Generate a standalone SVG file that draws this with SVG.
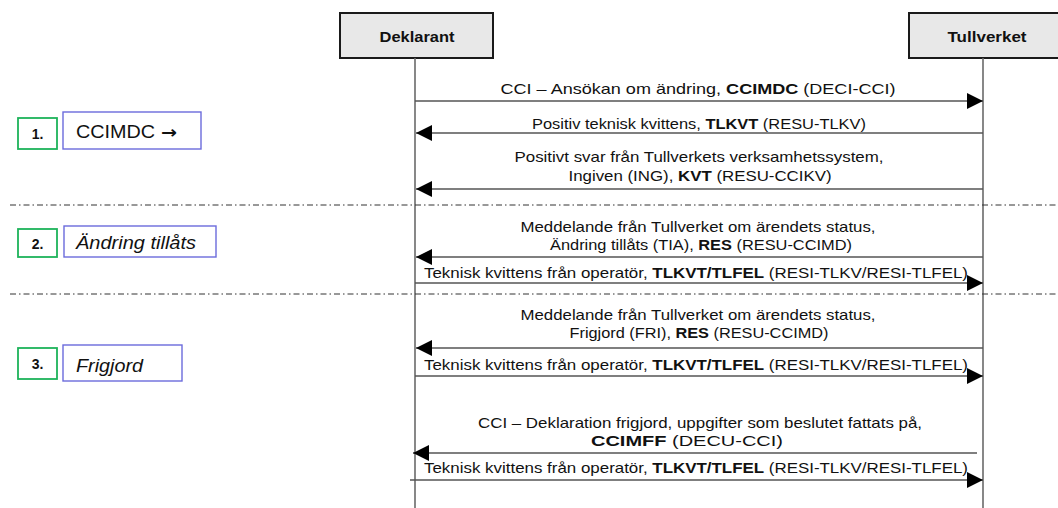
<svg xmlns="http://www.w3.org/2000/svg" width="1058" height="508" viewBox="0 0 1058 508">
<style>
text{font-family:"Liberation Sans",Arial,sans-serif;fill:#111}
.hdr{fill:#e8e8e8;stroke:#1a1a1a;stroke-width:2}
.hdrt{font-size:15px;font-weight:bold;text-anchor:middle}
.life{stroke:#6a6a6a;stroke-width:1.6}
.msg{stroke:#555;stroke-width:1.3;fill:none}
.lbl{font-size:15px;text-anchor:middle}
.b{font-weight:bold}
.sep{stroke:#333;stroke-width:1;stroke-dasharray:6 3 1.5 3}
.num{fill:#fff;stroke:#1db35a;stroke-width:1.8}
.numt{font-size:14px;font-weight:bold;text-anchor:middle}
.step{fill:#fff;stroke:#6b6bdc;stroke-width:1.4}
.stept{font-size:18px}
</style>
<defs>
<marker id="ah" markerWidth="16" markerHeight="16" refX="16" refY="8" orient="auto" markerUnits="userSpaceOnUse">
<path d="M0,0 L16,8 L0,16 Z" fill="#000"/>
</marker>
</defs>

<g id="deklarant">
<rect class="hdr" x="340" y="13" width="153" height="45"/>
<text class="hdrt" x="417" y="42" textLength="75" lengthAdjust="spacingAndGlyphs">Deklarant</text>
<line class="life" x1="415" y1="58" x2="415" y2="508"/>
</g>
<g id="tullverket">
<rect class="hdr" x="909" y="13" width="160" height="45"/>
<text class="hdrt" x="987" y="42" textLength="79" lengthAdjust="spacingAndGlyphs">Tullverket</text>
<line class="life" x1="983" y1="58" x2="983" y2="508"/>
</g>

<g id="separators">
<line class="sep" x1="10" y1="205" x2="1058" y2="205"/>
<line class="sep" x1="10" y1="294" x2="1058" y2="294"/>
</g>

<g id="step1">
<rect class="num" x="18" y="118" width="39" height="31"/>
<text class="numt" x="37.5" y="139">1.</text>
<rect class="step" x="63" y="112" width="138" height="37"/>
<text class="stept" x="76" y="138" textLength="79" lengthAdjust="spacingAndGlyphs">CCIMDC</text>
<text x="161" y="138" style="font-family:'DejaVu Sans',sans-serif;font-size:17px;font-weight:bold" textLength="16" lengthAdjust="spacingAndGlyphs">→</text>
</g>
<g id="step2">
<rect class="num" x="18" y="229" width="39" height="28"/>
<text class="numt" x="37.5" y="249">2.</text>
<rect class="step" x="64" y="226" width="152" height="31"/>
<text class="stept" x="76" y="249" font-style="italic" textLength="120" lengthAdjust="spacingAndGlyphs">Ändring tillåts</text>
</g>
<g id="step3">
<rect class="num" x="18" y="348" width="39" height="31"/>
<text class="numt" x="37.5" y="369">3.</text>
<rect class="step" x="63" y="345" width="119" height="36"/>
<text class="stept" x="76" y="372" font-style="italic" textLength="67" lengthAdjust="spacingAndGlyphs">Frigjord</text>
</g>

<g id="connectors">
<line class="msg" x1="415" y1="101" x2="983" y2="101" marker-end="url(#ah)"/>
<line class="msg" x1="983" y1="133" x2="416" y2="133" marker-end="url(#ah)"/>
<line class="msg" x1="983" y1="189" x2="416" y2="189" marker-end="url(#ah)"/>
<line class="msg" x1="983" y1="257" x2="416" y2="257" marker-end="url(#ah)"/>
<line class="msg" x1="415" y1="283" x2="983" y2="283" marker-end="url(#ah)"/>
<line class="msg" x1="983" y1="348" x2="416" y2="348" marker-end="url(#ah)"/>
<line class="msg" x1="415" y1="376" x2="983" y2="376" marker-end="url(#ah)"/>
<line class="msg" x1="977" y1="453" x2="413" y2="453" marker-end="url(#ah)"/>
<line class="msg" x1="410" y1="480" x2="983" y2="480" marker-end="url(#ah)"/>
</g>

<g id="labels">
<text class="lbl" x="698" y="94" textLength="395" lengthAdjust="spacingAndGlyphs">CCI – Ansökan om ändring, <tspan class="b">CCIMDC</tspan> (DECI-CCI)</text>
<text class="lbl" x="699" y="129" textLength="334" lengthAdjust="spacingAndGlyphs">Positiv teknisk kvittens, <tspan class="b">TLKVT</tspan> (RESU-TLKV)</text>
<text class="lbl" x="699" y="162" textLength="369" lengthAdjust="spacingAndGlyphs">Positivt svar från Tullverkets verksamhetssystem,</text>
<text class="lbl" x="700" y="181" textLength="263" lengthAdjust="spacingAndGlyphs">Ingiven (ING), <tspan class="b">KVT</tspan> (RESU-CCIKV)</text>
<text class="lbl" x="698" y="232" textLength="355" lengthAdjust="spacingAndGlyphs">Meddelande från Tullverket om ärendets status,</text>
<text class="lbl" x="701" y="250" textLength="302" lengthAdjust="spacingAndGlyphs">Ändring tillåts (TIA), <tspan class="b">RES</tspan> (RESU-CCIMD)</text>
<text class="lbl" x="696" y="278" textLength="544" lengthAdjust="spacingAndGlyphs">Teknisk kvittens från operatör, <tspan class="b">TLKVT/TLFEL</tspan> (RESI-TLKV/RESI-TLFEL)</text>
<text class="lbl" x="698" y="320" textLength="355" lengthAdjust="spacingAndGlyphs">Meddelande från Tullverket om ärendets status,</text>
<text class="lbl" x="699" y="338" textLength="259" lengthAdjust="spacingAndGlyphs">Frigjord (FRI), <tspan class="b">RES</tspan> (RESU-CCIMD)</text>
<text class="lbl" x="696" y="370" textLength="544" lengthAdjust="spacingAndGlyphs">Teknisk kvittens från operatör, <tspan class="b">TLKVT/TLFEL</tspan> (RESI-TLKV/RESI-TLFEL)</text>
<text class="lbl" x="700" y="428" textLength="444" lengthAdjust="spacingAndGlyphs">CCI – Deklaration frigjord, uppgifter som beslutet fattats på,</text>
<text class="lbl" x="687" y="446" textLength="192" lengthAdjust="spacingAndGlyphs"><tspan class="b">CCIMFF</tspan> (DECU-CCI)</text>
<text class="lbl" x="696" y="473" textLength="544" lengthAdjust="spacingAndGlyphs">Teknisk kvittens från operatör, <tspan class="b">TLKVT/TLFEL</tspan> (RESI-TLKV/RESI-TLFEL)</text>
</g>
</svg>
